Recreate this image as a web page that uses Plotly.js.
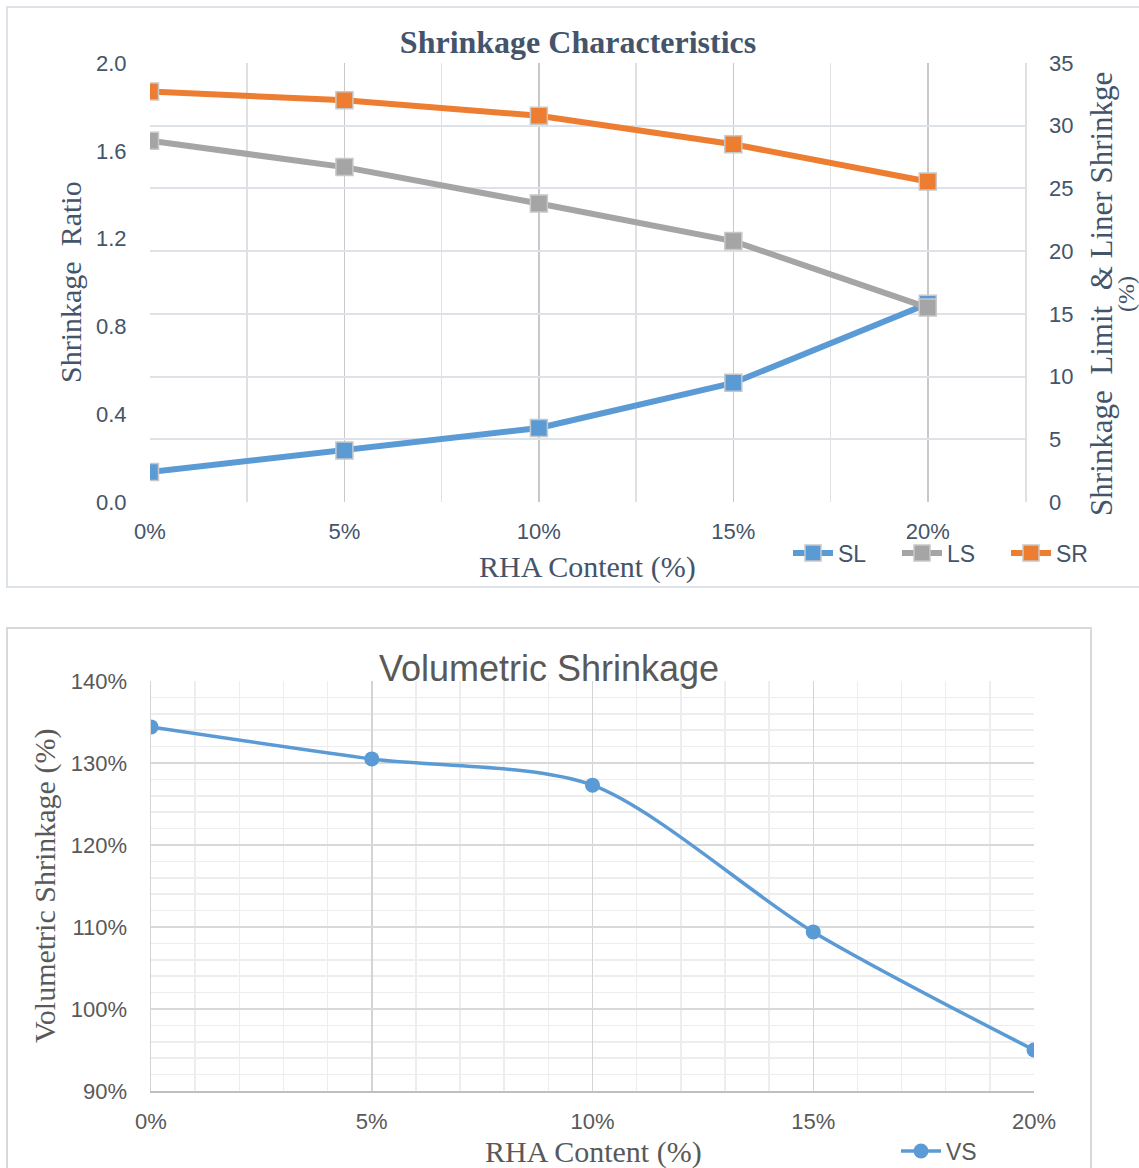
<!DOCTYPE html>
<html>
<head>
<meta charset="utf-8">
<script src="https://cdn.plot.ly/plotly-3.0.1.min.js"></script>
<style>
  html, body { margin: 0; padding: 0; background: #ffffff; }
  #page { position: relative; width: 1139px; height: 1168px; overflow: hidden; background: #ffffff; }
  .frame { position: absolute; box-sizing: border-box; }
  #frameTop { left: 6px; top: 6px; width: 1150px; height: 582px; border: 2px solid #dde2e8; }
  #frameBottom { left: 6px; top: 627px; width: 1086px; height: 560px; border: 2px solid #d9d9d9; }
  .plot { position: absolute; left: 0; width: 1139px; }
  #shrinkChart { top: 0; height: 600px; }
  #volChart { top: 600px; height: 568px; }
</style>
</head>
<body>
<div id="page">
  <div class="frame" id="frameTop"></div>
  <div class="frame" id="frameBottom"></div>
  <div class="plot" id="shrinkChart"></div>
  <div class="plot" id="volChart"></div>
</div>
<script>
// RHA replacement levels (fraction of binder)
const rhaContent = [0, 0.05, 0.10, 0.15, 0.20];
const rhaTickLabels = ['0%', '5%', '10%', '15%', '20%'];

// Shrinkage limit and linear shrinkage (%), right axis
const shrinkageLimit = [2.4, 4.1, 5.9, 9.5, 15.8];
const linearShrinkage = [28.8, 26.7, 23.8, 20.8, 15.5];
// Shrinkage ratio, left axis
const shrinkageRatio = [1.87, 1.83, 1.76, 1.63, 1.46];

// Volumetric shrinkage (fraction)
const volumetricShrinkage = [1.344, 1.305, 1.273, 1.094, 0.950];

const SERIF = '"Liberation Serif", "Times New Roman", serif';
const SANS = '"Liberation Sans", Arial, sans-serif';
const SLATE = '#44546a';
const GREY_TEXT = '#595959';

function squareMarker(fill) {
  return { symbol: 'square', size: 17, color: fill, line: { color: '#c8c8c8', width: 1.5 } };
}

// axis titles are placed as annotations so they sit at fixed spots around the fixed plot area
function titleNote(text, x, y, angle, size, color) {
  return {
    text: text, xref: 'paper', yref: 'paper', x: x, y: y,
    xanchor: 'center', yanchor: 'middle', textangle: angle, showarrow: false,
    font: { family: SERIF, size: size, color: color }
  };
}

const topTraces = [
  {
    x: rhaContent, y: shrinkageLimit, name: 'SL', yaxis: 'y2',
    type: 'scatter', mode: 'lines+markers',
    line: { color: '#5b9bd5', width: 6 },
    marker: squareMarker('#5b9bd5')
  },
  {
    x: rhaContent, y: linearShrinkage, name: 'LS', yaxis: 'y2',
    type: 'scatter', mode: 'lines+markers',
    line: { color: '#a5a5a5', width: 6 },
    marker: squareMarker('#a5a5a5')
  },
  {
    x: rhaContent, y: shrinkageRatio, name: 'SR', yaxis: 'y',
    type: 'scatter', mode: 'lines+markers',
    line: { color: '#ed7d31', width: 6 },
    marker: squareMarker('#ed7d31')
  }
];

const topLayout = {
  width: 1139, height: 600,
  margin: { l: 150, r: 114, t: 63, b: 98, autoexpand: false },
  paper_bgcolor: 'rgba(0,0,0,0)',
  plot_bgcolor: 'rgba(0,0,0,0)',
  showlegend: true,
  title: {
    text: '<b>Shrinkage Characteristics</b>',
    font: { family: SERIF, size: 32, color: SLATE },
    x: 0.5075, xanchor: 'center', y: 0.93, yanchor: 'middle'
  },
  xaxis: {
    range: [0, 0.225],
    tickvals: rhaContent, ticktext: rhaTickLabels,
    showgrid: true, gridcolor: '#c8c8c8', gridwidth: 1.5,
    zeroline: false, showline: false,
    ticks: 'outside', ticklen: 10, tickcolor: 'rgba(0,0,0,0)',
    tickfont: { family: SANS, size: 22, color: SLATE },
    minor: { dtick: 0.025, tick0: 0, showgrid: true, gridcolor: '#e0e0e0', gridwidth: 1.5, ticks: '' }
  },
  yaxis: {
    range: [0, 2], dtick: 0.4, tickformat: '.1f',
    showgrid: false, zeroline: false, showline: false,
    ticks: 'outside', ticklen: 18, tickcolor: 'rgba(0,0,0,0)',
    tickfont: { family: SANS, size: 22, color: SLATE }
  },
  yaxis2: {
    range: [0, 35], dtick: 5, overlaying: 'y', side: 'right',
    showgrid: true, gridcolor: '#dde2e8', gridwidth: 2,
    zeroline: false, showline: true, linecolor: '#e0e0e0', linewidth: 1.5,
    ticks: 'outside', ticklen: 18, tickcolor: 'rgba(0,0,0,0)',
    tickfont: { family: SANS, size: 22, color: SLATE }
  },
  annotations: [
    titleNote('RHA Content (%)', 0.5, (502 - 567) / 439, 0, 30, SLATE),
    titleNote('Shrinkage\u00A0 Ratio', (70 - 150) / 875, (502 - 282) / 439, -90, 30, SLATE),
    titleNote('Shrinkage\u00A0 Limit\u00A0 & Liner Shrinkge', (1102 - 150) / 875, 0.474, -90, 31, SLATE),
    titleNote('(%)', (1126 - 150) / 875, 0.474, -90, 24, SLATE)
  ],
  legend: {
    orientation: 'h', xref: 'container', yref: 'container',
    x: 788 / 1139, xanchor: 'left', y: 1 - 553 / 600, yanchor: 'middle',
    font: { family: SANS, size: 23, color: SLATE },
    bgcolor: 'rgba(0,0,0,0)', itemwidth: 40, entrywidth: 54, tracegroupgap: 0
  }
};

const bottomTraces = [
  {
    x: rhaContent, y: volumetricShrinkage, name: 'VS',
    type: 'scatter', mode: 'lines+markers',
    line: { color: '#5b9bd5', width: 3.5, shape: 'spline', smoothing: 0.8 },
    marker: { symbol: 'circle', size: 15, color: '#5b9bd5' }
  }
];

const bottomLayout = {
  width: 1139, height: 568,
  margin: { l: 151, r: 105, t: 81, b: 77, autoexpand: false },
  paper_bgcolor: 'rgba(0,0,0,0)',
  plot_bgcolor: 'rgba(0,0,0,0)',
  showlegend: true,
  title: {
    text: 'Volumetric Shrinkage',
    font: { family: SANS, size: 36, color: GREY_TEXT },
    x: 549 / 1139, xanchor: 'center', y: 1 - 68 / 568, yanchor: 'middle'
  },
  xaxis: {
    range: [0, 0.2],
    tickvals: rhaContent, ticktext: rhaTickLabels,
    showgrid: true, gridcolor: '#d4d4d4', gridwidth: 1.5,
    zeroline: false, showline: true, linecolor: '#bfbfbf', linewidth: 2,
    ticks: 'outside', ticklen: 10, tickcolor: 'rgba(0,0,0,0)',
    tickfont: { family: SANS, size: 22, color: GREY_TEXT },
    minor: { dtick: 0.01, tick0: 0, showgrid: true, gridcolor: '#ededed', gridwidth: 1.5, ticks: '' }
  },
  yaxis: {
    range: [0.9, 1.4], dtick: 0.1, tickformat: '.0%',
    showgrid: true, gridcolor: '#d9d9d9', gridwidth: 2,
    zeroline: false, showline: true, linecolor: '#d4d4d4', linewidth: 1.5,
    ticks: 'outside', ticklen: 18, tickcolor: 'rgba(0,0,0,0)',
    tickfont: { family: SANS, size: 22, color: GREY_TEXT },
    minor: { dtick: 0.02, showgrid: true, gridcolor: '#ededed', gridwidth: 1.5, ticks: '' }
  },
  annotations: [
    titleNote('RHA Content (%)', (593 - 151) / 883, (491 - 552) / 410, 0, 30, GREY_TEXT),
    titleNote('Volumetric Shrinkage (%)', (45 - 151) / 883, (491 - 286) / 410, -90, 30, GREY_TEXT)
  ],
  legend: {
    orientation: 'h', xref: 'container', yref: 'container',
    x: 896 / 1139, xanchor: 'left', y: 1 - 551 / 568, yanchor: 'middle',
    font: { family: SANS, size: 23, color: GREY_TEXT },
    bgcolor: 'rgba(0,0,0,0)', itemwidth: 40
  }
};

const config = { staticPlot: true, displayModeBar: false };
Plotly.newPlot('shrinkChart', topTraces, topLayout, config);
Plotly.newPlot('volChart', bottomTraces, bottomLayout, config);
</script>
</body>
</html>
